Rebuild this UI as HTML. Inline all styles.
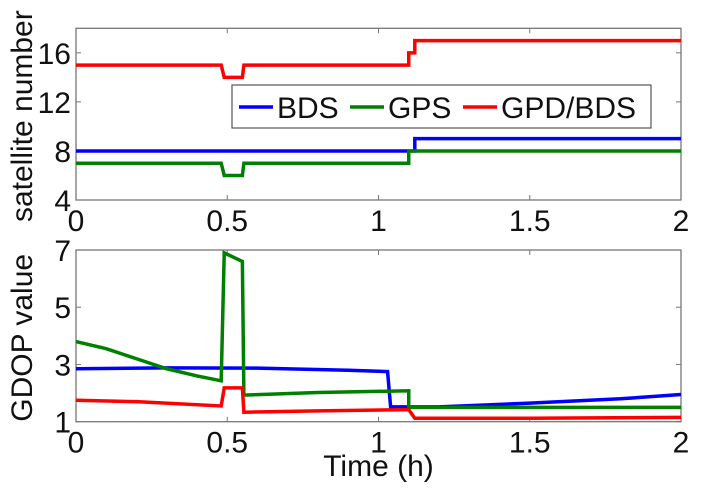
<!DOCTYPE html>
<html><head><meta charset="utf-8"><style>
body{margin:0;background:#fff}
svg{display:block;font-family:"Liberation Sans",Arial,sans-serif}
</style></head><body>
<svg id="chart" width="702" height="499" viewBox="0 0 702 499"></svg>
<script>
const xTicks=[0,0.5,1,1.5,2];
const topTicks=[4,8,12,16];
const botTicks=[1,3,5,7];
const seriesNames=["BDS","GPS","GPD/BDS"];
const colors=["#0000ff","#008000","#ff0000"];
// top panel: satellite numbers [time, value]
const satBDS=[[0,8],[1.12,8],[1.12,9],[2,9]];
const satGPS=[[0,7],[0.48,7],[0.49,6],[0.55,6],[0.555,7],[1.1,7],[1.1,8],[2,8]];
const satGPD=[[0,15],[0.48,15],[0.49,14],[0.55,14],[0.555,15],[1.1,15],[1.1,16],[1.12,16],[1.12,17],[2,17]];
// bottom panel: GDOP values
const gdopBDS=[[0,2.85],[0.3,2.88],[0.6,2.87],[0.9,2.8],[1.03,2.75],[1.04,1.52],[1.2,1.52],[1.5,1.65],[1.8,1.8],[2,1.95]];
const gdopGPS=[[0,3.8],[0.1,3.55],[0.2,3.2],[0.3,2.85],[0.4,2.6],[0.48,2.43],[0.49,6.9],[0.55,6.6],[0.555,1.93],[0.8,2.02],[1.1,2.08],[1.1,1.5],[2,1.5]];
const gdopGPD=[[0,1.75],[0.2,1.7],[0.48,1.55],[0.49,2.18],[0.55,2.18],[0.555,1.33],[0.8,1.38],[1.1,1.42],[1.12,1.12],[1.5,1.12],[2,1.15]];

const svg=document.getElementById('chart');
const NS='http://www.w3.org/2000/svg';
function mk(t,a,p){const e=document.createElementNS(NS,t);for(const k in a)e.setAttribute(k,a[k]);(p||svg).appendChild(e);return e;}
const X0=76,X1=681;
const FS=30;
const xs=v=>X0+(v-0)/2*(X1-X0);
function panel(name,top,bot,ymin,ymax,ticks,data,ylabel){
  const ys=v=>bot-(v-ymin)/(ymax-ymin)*(bot-top);
  const g=mk('g',{});
  
  
  const box=mk('rect',{x:X0,y:top,width:X1-X0,height:bot-top,fill:'none',stroke:'#777','stroke-width':1.3},g);
  
  
  xTicks.forEach(t=>{
    mk('line',{x1:xs(t),x2:xs(t),y1:bot,y2:bot-5,stroke:'#777'},g);
    mk('line',{x1:xs(t),x2:xs(t),y1:top,y2:top+5,stroke:'#777'},g);
    const tx=mk('text',{x:xs(t),y:bot+31,'font-size':FS,'text-anchor':'middle',fill:'#111'},g);
    tx.textContent=t;
    
    
  });
  ticks.forEach(t=>{
    mk('line',{x1:X0,x2:X0+5,y1:ys(t),y2:ys(t),stroke:'#777'},g);
    mk('line',{x1:X1,x2:X1-5,y1:ys(t),y2:ys(t),stroke:'#777'},g);
    const tx=mk('text',{x:X0-5,y:ys(t)+11,'font-size':FS,'text-anchor':'end',fill:'#111'},g);
    tx.textContent=t;
    
    
  });
  data.forEach((d,i)=>{
    const p=mk('polyline',{points:d.map(q=>xs(q[0])+','+ys(q[1])).join(' '),fill:'none',stroke:colors[i],'stroke-width':3.5},g);
    
    
  });
  const cy=(top+bot)/2+2;
  const yl=mk('text',{x:0,y:0,'font-size':FS,'text-anchor':'middle',fill:'#111',transform:`translate(32,${cy}) rotate(-90)`},g);
  yl.textContent=ylabel;
  
  
}
panel('satellite-panel',28.3,200,4,18,topTicks,[satBDS,satGPS,satGPD],'satellite number');
panel('gdop-panel',250,421.7,1,7,botTicks,[gdopBDS,gdopGPS,gdopGPD],'GDOP value');
const xt=mk('text',{x:378.5,y:476,'font-size':FS,'text-anchor':'middle',fill:'#111'});
xt.textContent='Time (h)';


// legend
const lg=mk('g',{});


mk('rect',{x:232,y:85,width:419,height:43,fill:'#fff',stroke:'#555','stroke-width':1.2},lg);
const lx=[239,350,463];
seriesNames.forEach((n,i)=>{
  mk('line',{x1:lx[i],x2:lx[i]+34,y1:107,y2:107,stroke:colors[i],'stroke-width':3.5},lg);
  const t=mk('text',{x:lx[i]+38,y:118,'font-size':FS,fill:'#111'},lg);
  t.textContent=n;
  
  
});
</script>
</body></html>
